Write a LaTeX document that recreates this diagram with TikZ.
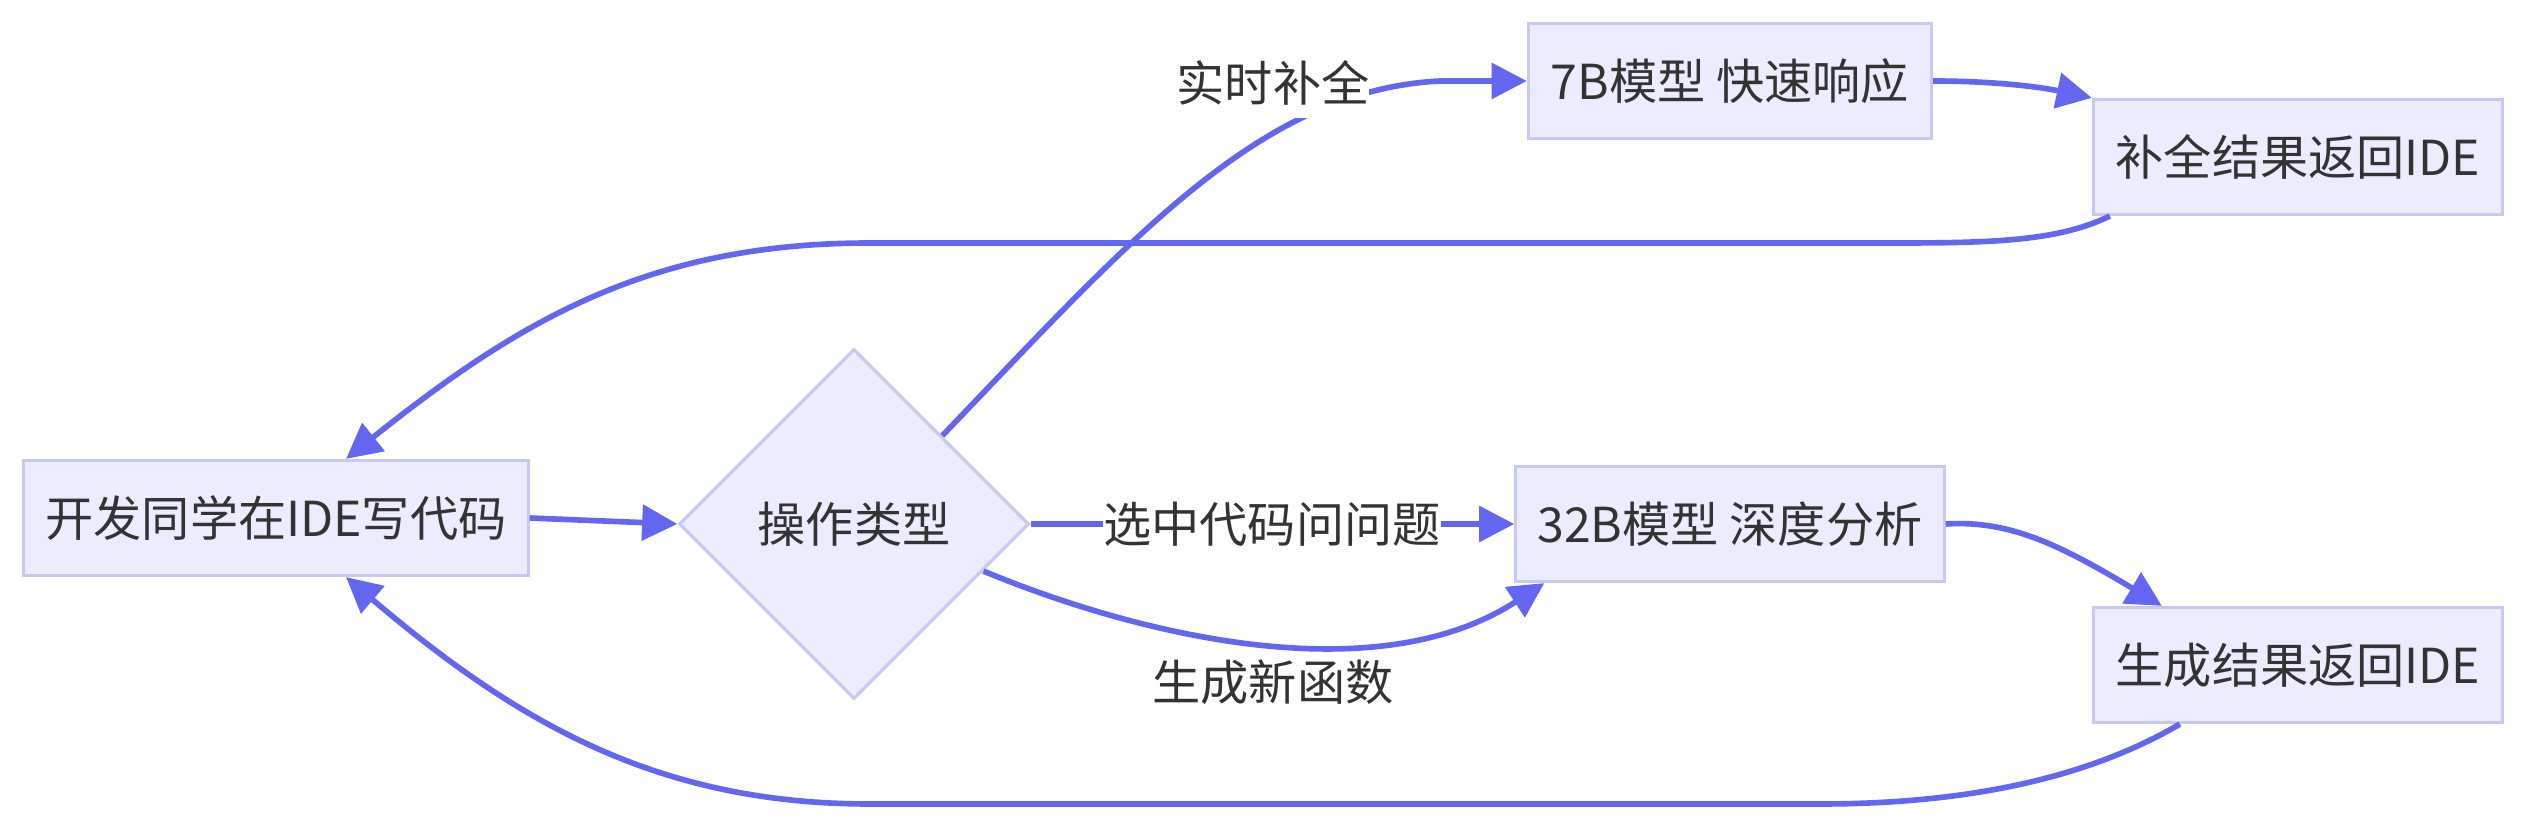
\documentclass[tikz,border=0pt]{standalone}
\usepackage{fontspec}
\setmainfont{Noto Sans CJK SC}
\usetikzlibrary{shapes.geometric,arrows.meta}
\definecolor{boxfill}{HTML}{ECECFF}
\definecolor{boxline}{HTML}{C8C8F4}
\definecolor{flowline}{HTML}{6366F1}
\definecolor{txt}{HTML}{333333}
\begin{document}
\begin{tikzpicture}[x=0.01cm,y=-0.01cm,
    font=\fontsize{13.7pt}{16pt}\selectfont,text=txt,
    box/.style={draw=boxline,fill=boxfill,line width=0.9pt,inner sep=0pt,minimum height=1.15cm},
    decision/.style={diamond,draw=boxline,fill=boxfill,line width=0.9pt,inner sep=0pt,minimum width=3.5cm,minimum height=3.5cm},
    flow/.style={draw=flowline,line width=1.6pt,-{Triangle[length=10pt,width=10pt]}},
    tag/.style={fill=white,inner sep=0pt,minimum height=0.7cm}]
      \useasboundingbox (0,0) rectangle (2526,828);
      \node[box,minimum width=5.04cm] (dev) at (276,518) {开发同学在IDE写代码};
      \node[decision] (kind) at (854,524) {操作类型};
      \node[box,minimum width=4.03cm] (fast) at (1730,81) {7B模型 快速响应};
      \node[box,minimum width=4.28cm] (deep) at (1730,524) {32B模型 深度分析};
      \node[box,minimum width=4.09cm] (back1) at (2298,157) {补全结果返回IDE};
      \node[box,minimum width=4.09cm] (back2) at (2298,665) {生成结果返回IDE};
      \draw[flow] (dev.east) -- (kind.west);
      \draw[flow] (kind.north east) .. controls (1130,240) and (1260,90) .. (1440,81) -- (fast.west);
      \draw[flow] (kind.east) -- (deep.west);
      \draw[flow] (kind.-20) .. controls (1150,640) and (1380,690) .. ([xshift=0.3cm]deep.south west);
      \draw[flow] (fast.east) .. controls (2000,81) and (2045,88) .. (back1.north west);
      \draw[flow] (deep.east) .. controls (2010,520) and (2060,545) .. ([xshift=0.7cm]back2.north west);
      \draw[flow] ([xshift=0.18cm]back1.south west) .. controls (2060,240) and (2000,243) .. (1900,243) -- (870,243)
        .. controls (650,243) and (520,320) .. ([xshift=0.7cm]dev.north);
      \draw[flow] ([xshift=0.88cm]back2.south west) .. controls (2110,765) and (2000,804) .. (1820,804) -- (870,804)
        .. controls (660,804) and (520,725) .. ([xshift=0.7cm]dev.south);
      \node[tag] (quick) at (1273,83) {实时补全};
      \node[tag] (ask) at (1272,524) {选中代码问问题};
      \node (gen) at (1273,682) {生成新函数};
\end{tikzpicture}
\end{document}
